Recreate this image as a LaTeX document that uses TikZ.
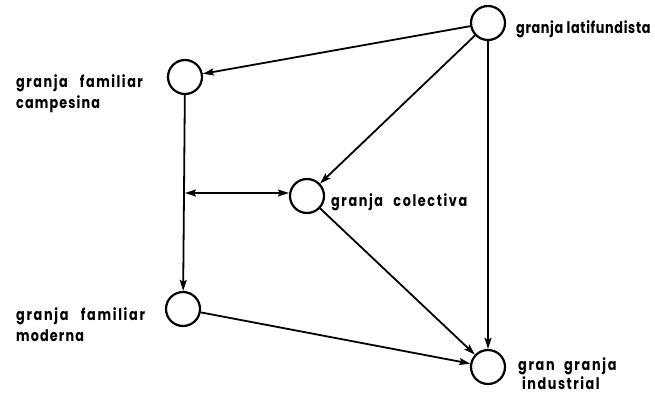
\documentclass[tikz,border=0pt]{standalone}
\usepackage{fontspec}
\setmainfont{Poppins}[UprightFont=* Bold, FakeStretch=0.8]
\usetikzlibrary{arrows.meta}
\newcommand{\lsp}[2]{{\addfontfeature{LetterSpace=#1}#2}}
\begin{document}
\begin{tikzpicture}[x=1pt,y=-1pt,
  farm/.style={circle,draw,line width=2.2pt,minimum size=34pt,inner sep=0pt},
  lab/.style={anchor=base west,align=left,font=\fontsize{16}{21}\selectfont,inner sep=0pt},
  conn/.style={line width=1.8pt,-{Stealth[length=11pt,width=7pt,inset=2pt]}},
  conn2/.style={line width=1.8pt,{Stealth[length=11pt,width=7pt,inset=2pt]}-{Stealth[length=11pt,width=7pt,inset=2pt]}}]
\useasboundingbox (0,0) rectangle (655,395);
\node[farm] (lat) at (488,23) {};
\node[farm] (cam) at (185,77) {};
\node[farm] (col) at (307,196) {};
\node[farm] (mod) at (183,309) {};
\node[farm] (ind) at (488,367) {};
\node[lab] (tlat) at (516,34) {\lsp{4}{granja latifundista}};
\node[lab] (tcam) at (16,109) {\lsp{9.5}{granja\hspace{8pt} familiar}\\\lsp{7}{campesina}};
\node[lab] (tcol) at (331,207) {\lsp{10}{granja\hspace{6pt} colectiva}};
\node[lab] (tmod) at (16,341) {\lsp{10.5}{granja\hspace{8pt} familiar}\\\lsp{7}{moderna}};
\node[lab] (tind) at (518,389) {\lsp{10.5}{gran\hspace{5pt} granja}\\[-2pt]\hspace*{4pt}\lsp{9.5}{industrial}};
\coordinate (mid) at (185,193);
\draw[conn] (lat) -- (cam);
\draw[conn] (lat) -- (col);
\draw[conn] (lat) -- (ind);
\draw[conn] (cam) -- (mod);
\draw[conn2] (mid) -- (col.west |- mid);
\draw[conn] (col) -- (ind);
\draw[conn] (mod) -- (ind);
\end{tikzpicture}
\end{document}
